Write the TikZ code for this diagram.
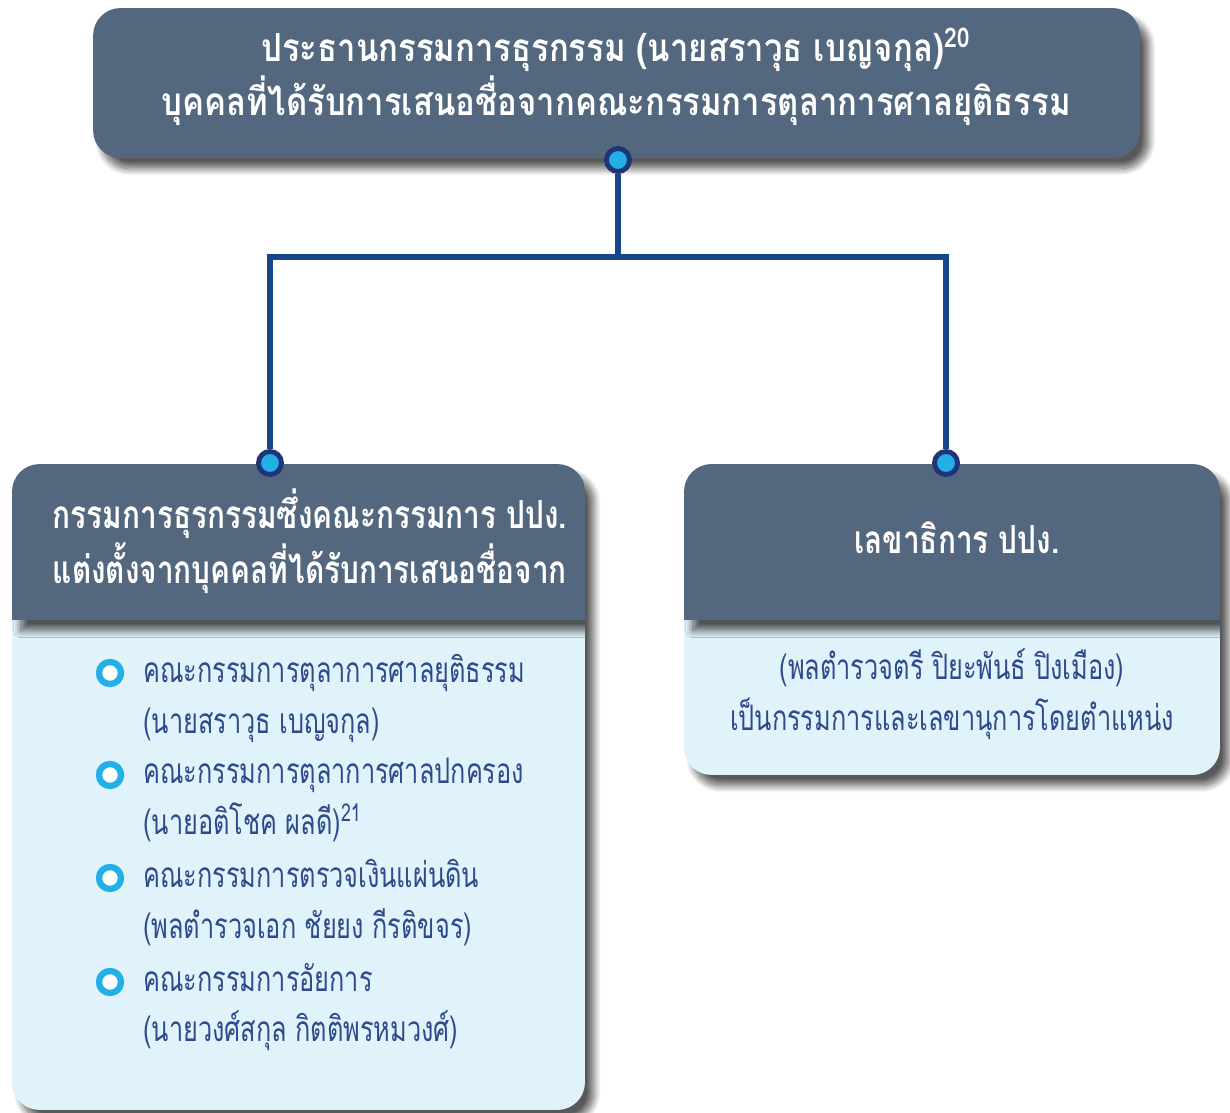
\documentclass[tikz,border=0pt]{standalone}
\usepackage{fontspec}
\setmainfont[Script=Thai]{Loma}
\newfontfamily\thaibody[Script=Thai, FakeStretch=0.72]{Loma}
\newfontfamily\thaihead[Script=Thai, FakeStretch=0.85]{Loma}
\newfontfamily\thaisub[Script=Thai, FakeStretch=0.77]{Loma}
\usepackage{tikz}
\usetikzlibrary{positioning,calc,shadows.blur}
\definecolor{hdrslate}{RGB}{83,103,127}
\definecolor{bodyblue}{RGB}{224,242,250}
\definecolor{textblue}{RGB}{45,74,140}
\definecolor{linkblue}{RGB}{24,70,138}
\definecolor{dotcyan}{RGB}{34,176,230}
\definecolor{dotnavy}{RGB}{32,52,120}

\begin{document}
\begin{tikzpicture}[x=0.02cm, y=-0.02cm, every node/.style={font=\fontsize{20}{29}\selectfont\thaibody}]
  \tikzstyle{boxshadow}=[blur shadow={shadow xshift=5pt, shadow yshift=-6pt, shadow blur steps=12, shadow blur radius=4pt, shadow opacity=65}]
  \tikzstyle{hdr}=[fill=hdrslate, outer sep=0pt, inner sep=0pt]
  \tikzstyle{panel}=[fill=bodyblue, rounded corners=0.55cm, outer sep=0pt, inner sep=0pt, boxshadow]
  \tikzstyle{hdrtext}=[text=white, font=\fontsize{22}{31}\selectfont\thaihead\bfseries]
  \tikzstyle{subtext}=[text=white, font=\fontsize{22}{31}\selectfont\thaisub\bfseries]
  \tikzstyle{bodytext}=[text=textblue, align=left, inner sep=0pt]
  \tikzstyle{link}=[draw=linkblue, line width=3.4pt]
  \tikzstyle{joint}=[circle, fill=dotcyan, draw=dotnavy, line width=2.8pt, minimum size=0.46cm, inner sep=0pt]
  \tikzstyle{bullet}=[circle, fill=white, draw=dotcyan, line width=3.6pt, minimum size=0.44cm, inner sep=0pt]

  \useasboundingbox (0,0) rectangle (1230,1112);

  % top box
  \node[hdr, rounded corners=0.55cm, boxshadow, minimum width=20.94cm, minimum height=3cm] (chair) at (616.5,83) {};
  \node[hdrtext, align=center] (chairtext) at (616,77) {ประธานกรรมการธุรกรรม (นายสราวุธ เบญจกุล)\textsuperscript{20}\\บุคคลที่ได้รับการเสนอชื่อจากคณะกรรมการตุลาการศาลยุติธรรม};

  % left panel
  \node[panel, minimum width=11.46cm, minimum height=12.92cm] (left) at (298.5,787) {};
  \begin{scope}
    \clip[rounded corners=0.55cm] (left.south west) rectangle (left.north east);
    \node[hdr, boxshadow, minimum width=11.46cm, minimum height=3.12cm, anchor=north] (lefthead) at (left.north) {};
  \end{scope}
  \node[subtext, align=left] (lefttitle) at (310,541) {กรรมการธุรกรรมซึ่งคณะกรรมการ ปปง.\\แต่งตั้งจากบุคคลที่ได้รับการเสนอชื่อจาก};

  \foreach \y/\name/\who [count=\i] in {
      698/คณะกรรมการตุลาการศาลยุติธรรม/(นายสราวุธ เบญจกุล),
      800/คณะกรรมการตุลาการศาลปกครอง/{(นายอติโชค ผลดี)\textsuperscript{21}},
      903/คณะกรรมการตรวจเงินแผ่นดิน/(พลตำรวจเอก ชัยยง กีรติขจร),
      1007/คณะกรรมการอัยการ/(นายวงศ์สกุล กิตติพรหมวงศ์)} {
    \node[bodytext, anchor=west] (item\i) at (143,\y) {\name\\\who};
    \node[bullet] (mark\i) at (110,\y-25) {};
  }

  % right panel
  \node[panel, minimum width=10.72cm, minimum height=6.22cm] (right) at (952,619.5) {};
  \begin{scope}
    \clip[rounded corners=0.55cm] (right.south west) rectangle (right.north east);
    \node[hdr, boxshadow, minimum width=10.72cm, minimum height=3.12cm, anchor=north] (righthead) at (right.north) {};
  \end{scope}
  \node[subtext] (righttitle) at (957,538) {เลขาธิการ ปปง.};
  \node[bodytext, align=center] (rightbody) at (952,694) {(พลตำรวจตรี ปิยะพันธ์ ปิงเมือง)\\เป็นกรรมการและเลขานุการโดยตำแหน่ง};

  % connectors
  \node[joint] (jtop) at (618,160) {};
  \node[joint] (jleft) at (270,463) {};
  \node[joint] (jright) at (946,463) {};
  \coordinate (fork) at (618,257);
  \draw[link] (jtop) -- (fork) -| (jleft);
  \draw[link] (fork) -| (jright);
\end{tikzpicture}
\end{document}
